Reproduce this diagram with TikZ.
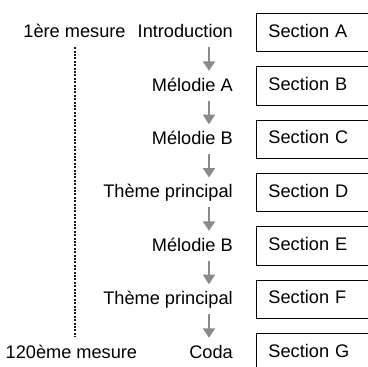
\documentclass[tikz,border=0pt]{standalone}
\usepackage{fontspec}
\setmainfont{Liberation Sans}
\usetikzlibrary{arrows.meta}
\definecolor{arrgray}{HTML}{8A8A8A}
\definecolor{dotgray}{HTML}{1A1A1A}
\begin{document}
\begin{tikzpicture}[x=1pt,y=-1pt,
  every node/.style={font=\fontsize{18.2}{22}\selectfont, inner sep=0pt, text height=13.1pt, text depth=3.9pt},
  secbox/.style={draw=black, line width=0.9pt, anchor=west, minimum height=38.4pt, text width=92pt, align=left, inner xsep=12pt, inner ysep=0pt},
  lbl/.style={anchor=base east},
  arr/.style={draw=arrgray, line width=2pt, -{Triangle[width=12pt,length=9.5pt]}, shorten <=5.6pt, shorten >=6.9pt},
  dotline/.style={draw=dotgray, line width=2.2pt, dash pattern=on 2pt off 1.4pt, shorten <=5.4pt, shorten >=8pt}
]
\useasboundingbox (0,0) rectangle (368,367);
\coordinate (ax) at (209,0);
\coordinate (dx) at (75,0);
% boxes
\foreach \i/\s in {0/A,1/B,2/C,3/D,4/E,5/F,6/G}{
  \node[secbox] (s\s) at (256,{32.5+53.33*\i}) {Section \s};
}
% labels
\node[lbl] (l1) at (233,37.7) {Introduction};
\node[lbl] (l2) at (233,91.0) {Mélodie A};
\node[lbl] (l3) at (233,144.4) {Mélodie B};
\node[lbl] (l4) at (233,197.7) {Thème principal};
\node[lbl] (l5) at (233,251.0) {Mélodie B};
\node[lbl] (l6) at (233,304.4) {Thème principal};
\node[lbl] (l7) at (233,358.0) {Coda};
% arrows
\draw[arr] (l1.south -| ax) -- (l2.north -| ax);
\draw[arr] (l2.south -| ax) -- (l3.north -| ax);
\draw[arr] (l3.south -| ax) -- (l4.north -| ax);
\draw[arr] (l4.south -| ax) -- (l5.north -| ax);
\draw[arr] (l5.south -| ax) -- (l6.north -| ax);
\draw[arr] (l6.south -| ax) -- (l7.north -| ax);
% measures
\node[anchor=base] (m1) at (74.5,37.7) {1ère mesure};
\node[anchor=base] (m2) at (71.4,358.0) {120ème mesure};
\draw[dotline] (m1.south -| dx) -- (m2.north -| dx);
\end{tikzpicture}
\end{document}
